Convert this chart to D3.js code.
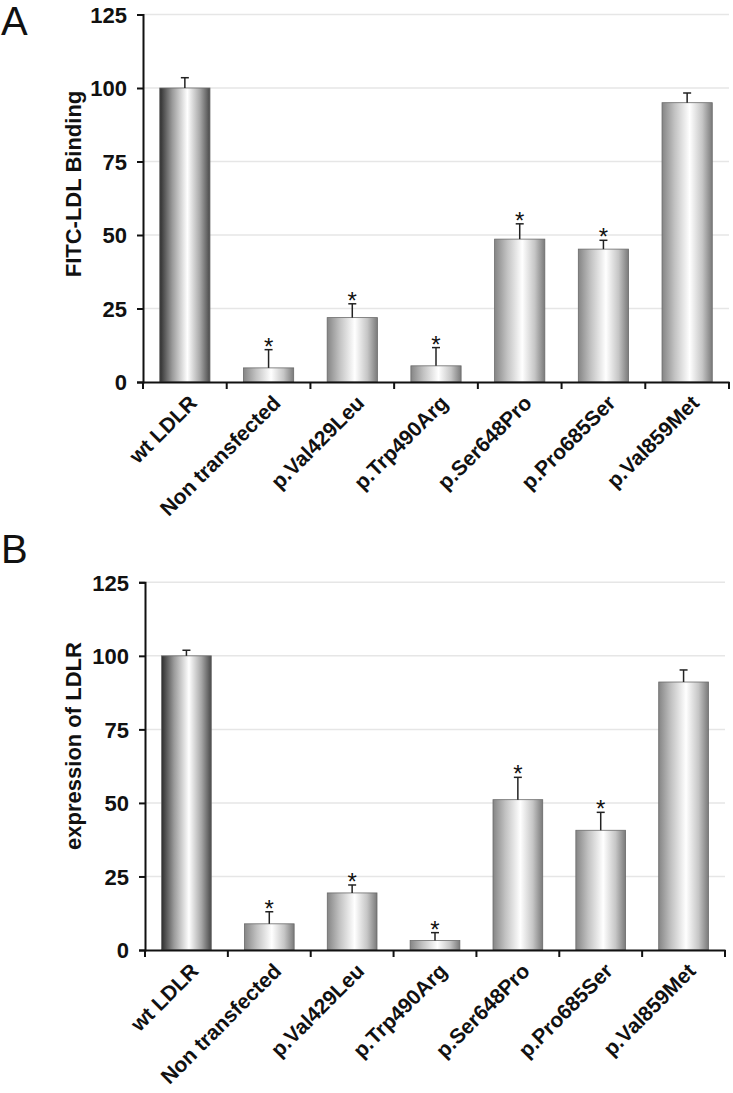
<!DOCTYPE html>
<html><head><meta charset="utf-8">
<script src="https://d3js.org/d3.v7.min.js"></script>
<style>body{margin:0;background:#fff;} svg{display:block;font-family:"Liberation Sans",Arial,sans-serif;}</style>
</head><body>
<script>
const categories = ["wt LDLR","Non transfected","p.Val429Leu","p.Trp490Arg","p.Ser648Pro","p.Pro685Ser","p.Val859Met"];
const bindingValues = [100, 4.8, 21.9, 5.5, 48.6, 45.2, 95.0];
const bindingErrors = [3.5, 6.2, 4.7, 6.2, 5.2, 3.0, 3.3];
const expressionValues = [100, 8.9, 19.4, 3.2, 51.1, 40.7, 91.1];
const expressionErrors = [1.9, 4.1, 2.7, 2.7, 7.6, 6.1, 4.1];
const significant = [false, true, true, true, true, true, false];
const yTicks = [0, 25, 50, 75, 100, 125];

const W = 733, H = 1093;
const FONT = '"Liberation Sans",Arial,sans-serif';
const svg = d3.select("body").append("svg").attr("width", W).attr("height", H);
const defs = svg.append("defs");
function grad(id, stops){
  const g = defs.append("linearGradient").attr("id", id).attr("x1","0%").attr("x2","100%").attr("y1","0%").attr("y2","0%");
  stops.forEach(s => g.append("stop").attr("offset", s[0]).attr("stop-color", s[1]));
}
grad("gWt", [["0%","#2e2e2e"],["25%","#9a9a9a"],["55%","#ffffff"],["80%","#a8a8a8"],["100%","#4a4a4a"]]);
grad("gMut", [["0%","#858585"],["25%","#c2c2c2"],["55%","#ffffff"],["80%","#c6c6c6"],["100%","#7a7a7a"]]);

function panel(cfg){
  const g = svg.append("g");
  const x = d3.scaleBand().domain(categories).range([cfg.x0, cfg.x1]).paddingInner(0.4).paddingOuter(0.2);
  const y = d3.scaleLinear().domain([0,125]).range([cfg.y0, cfg.yTop]);
  g.selectAll("line.grid").data(yTicks.filter(d=>d>0)).join("line")
    .attr("x1", cfg.x0).attr("x2", cfg.x1).attr("y1", d=>y(d)).attr("y2", d=>y(d))
    .attr("stroke", "#e6e6e6").attr("stroke-width", 1.5);
  g.selectAll("rect.bar").data(categories).join("rect")
    .attr("x", d=>x(d)).attr("width", x.bandwidth())
    .attr("y", (d,i)=>y(cfg.values[i])).attr("height", (d,i)=>y(0)-y(cfg.values[i]))
    .attr("fill", (d,i)=> i===0 ? "url(#gWt)" : "url(#gMut)")
    .attr("stroke", "#6a6a6a").attr("stroke-width", 0.8);
  const eb = g.selectAll("g.err").data(categories).join("g");
  eb.append("line").attr("x1", d=>x(d)+x.bandwidth()/2).attr("x2", d=>x(d)+x.bandwidth()/2)
    .attr("y1", (d,i)=>y(cfg.values[i])).attr("y2", (d,i)=>y(cfg.values[i]+cfg.errors[i]))
    .attr("stroke", "#222").attr("stroke-width", 1.5);
  eb.append("line").attr("x1", d=>x(d)+x.bandwidth()/2-4).attr("x2", d=>x(d)+x.bandwidth()/2+4)
    .attr("y1", (d,i)=>y(cfg.values[i]+cfg.errors[i])).attr("y2", (d,i)=>y(cfg.values[i]+cfg.errors[i]))
    .attr("stroke", "#222").attr("stroke-width", 1.5);
  g.selectAll("text.star").data(categories.filter((d,i)=>significant[i])).join("text")
    .attr("x", d=>x(d)+x.bandwidth()/2)
    .attr("y", d=>{const i=categories.indexOf(d); return y(cfg.values[i]+cfg.errors[i]) + 5;})
    .attr("text-anchor","middle").attr("font-size", 24).attr("fill","#111").text("*");
  const ya = g.append("g").attr("transform", `translate(${cfg.x0},0)`)
    .call(d3.axisLeft(y).tickValues(yTicks).tickSize(6).tickPadding(10));
  ya.select(".domain").attr("stroke","#111").attr("stroke-width",2);
  ya.selectAll(".tick line").attr("stroke","#111").attr("stroke-width",2);
  ya.selectAll(".tick text").attr("font-size", 22).attr("font-weight","bold").attr("fill","#111")
    .attr("font-family", FONT).attr("dy","0.36em");
  const xa = g.append("g").attr("transform", `translate(0,${cfg.y0})`)
    .call(d3.axisBottom(x).tickSizeOuter(0).tickSize(0));
  xa.select(".domain").attr("stroke","#111").attr("stroke-width",2);
  g.selectAll("line.xt").data(d3.range(categories.length+1)).join("line")
    .attr("x1", i=>cfg.x0 + i*(cfg.x1-cfg.x0)/categories.length)
    .attr("x2", i=>cfg.x0 + i*(cfg.x1-cfg.x0)/categories.length)
    .attr("y1", cfg.y0).attr("y2", cfg.y0+7).attr("stroke","#111").attr("stroke-width",2);
  xa.selectAll(".tick text")
    .attr("font-size", 21).attr("font-weight","bold").attr("fill","#111")
    .attr("font-family", FONT)
    .attr("text-anchor","end").attr("dy","0.35em")
    .attr("transform","translate(6,15) rotate(-45)");
  g.append("text").attr("transform", `translate(${cfg.titleX},${cfg.titleY}) rotate(-90)`)
    .attr("text-anchor","middle").attr("font-size", 22).attr("font-weight", "bold")
    .attr("fill","#111").text(cfg.title);
  g.append("text").attr("x", 1).attr("y", cfg.letterY).attr("font-size", 40).attr("fill","#111").text(cfg.letter);
}

panel({x0:143, x1:729, y0:382, yTop:14.5, values: bindingValues, errors: bindingErrors,
  title:"FITC-LDL Binding", titleX:81, titleY:184, letter:"A", letterY:35});
panel({x0:145, x1:725, y0:950, yTop:582.3, values: expressionValues, errors: expressionErrors,
  title:"expression of LDLR", titleX:81, titleY:746, letter:"B", letterY:563});
</script>
</body></html>
